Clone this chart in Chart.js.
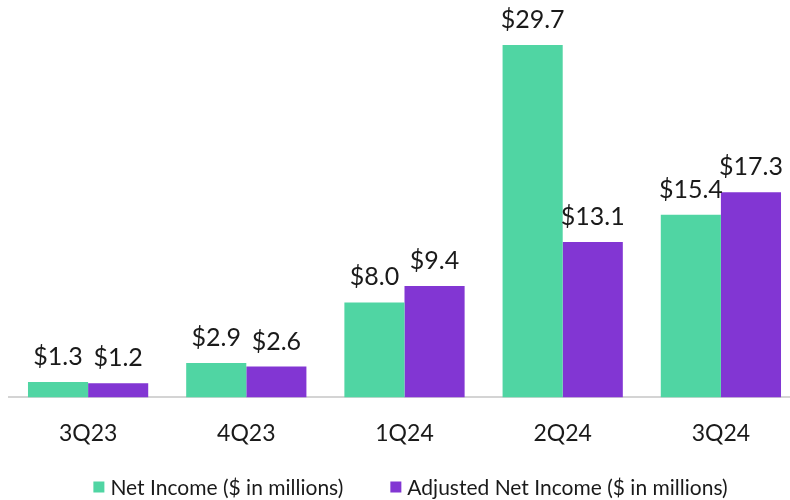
<!DOCTYPE html>
<html>
<head>
<meta charset="utf-8">
<script src="https://cdn.jsdelivr.net/npm/chart.js@4/dist/chart.umd.min.js"></script>
<style>
html,body{margin:0;padding:0;background:#fff;overflow:hidden;}
#wrap{width:800px;height:500px;position:relative;}
</style>
</head>
<body>
<div id="wrap"><canvas id="c"></canvas></div>
<script>
const categories = ["3Q23","4Q23","1Q24","2Q24","3Q24"];
const netIncome = [1.3, 2.9, 8.0, 29.7, 15.4];
const adjNetIncome = [1.2, 2.6, 9.4, 13.1, 17.3];
const seriesNames = ["Net Income ($ in millions)", "Adjusted Net Income ($ in millions)"];
const seriesColors = ['#50d5a3', '#8236d3'];

const FONT = "Lato, 'Open Sans', sans-serif";
const TEXT = "#1a1a1a";

const valueLabels = {
  id: 'valueLabels',
  afterDatasetsDraw(chart) {
    const ctx = chart.ctx;
    ctx.save();
    ctx.font = "25px " + FONT;
    ctx.fillStyle = TEXT;
    ctx.textAlign = "center";
    ctx.textBaseline = "alphabetic";
    chart.data.datasets.forEach((ds, i) => {
      const meta = chart.getDatasetMeta(i);
      meta.data.forEach((bar, j) => {
        ctx.fillText("$" + ds.data[j].toFixed(1), bar.x, bar.y - 17);
      });
    });
    ctx.restore();
  }
};

const customLegend = {
  id: 'customLegend',
  afterDraw(chart) {
    const ctx = chart.ctx;
    ctx.save();
    ctx.font = "21px " + FONT;
    ctx.textBaseline = "middle";
    const box = 11, gap = 6, itemGap = 47;
    const widths = chart.data.datasets.map(ds => ctx.measureText(ds.label).width);
    const total = widths.reduce((a, w) => a + box + gap + w, 0) + itemGap * (widths.length - 1);
    const cx = (chart.chartArea.left + chart.chartArea.right) / 2 + 6;
    let x = cx - total / 2;
    const y = chart.height - 13;
    chart.data.datasets.forEach((ds, i) => {
      ctx.fillStyle = ds.backgroundColor;
      ctx.fillRect(x, y - box / 2, box, box);
      x += box + gap;
      ctx.fillStyle = TEXT;
      ctx.textAlign = "left";
      ctx.fillText(ds.label, x, y + 1);
      x += widths[i] + itemGap;
    });
    ctx.restore();
  }
};

new Chart(document.getElementById('c'), {
  type: 'bar',
  data: {
    labels: categories,
    datasets: [
      { label: seriesNames[0], data: netIncome, backgroundColor: seriesColors[0], categoryPercentage: 0.76, barPercentage: 1.0 },
      { label: seriesNames[1], data: adjNetIncome, backgroundColor: seriesColors[1], categoryPercentage: 0.76, barPercentage: 1.0 }
    ]
  },
  options: {
    responsive: true,
    maintainAspectRatio: false,
    animation: false,
    layout: { padding: { left: 9, right: 0, top: 0, bottom: 31 } },
    scales: {
      x: {
        grid: { display: false, drawTicks: false },
        border: { display: true, color: '#d4d4d4', width: 2 },
        ticks: { color: TEXT, font: { size: 23, family: FONT }, padding: 22 }
      },
      y: {
        display: false,
        min: 0,
        max: 33.5
      }
    },
    plugins: {
      legend: { display: false },
      tooltip: { enabled: false }
    }
  },
  plugins: [valueLabels, customLegend]
});
</script>
</body>
</html>
